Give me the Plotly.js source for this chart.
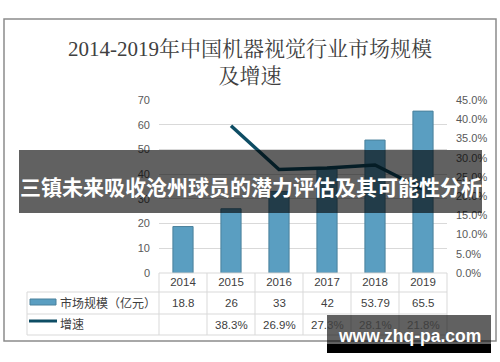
<!DOCTYPE html>
<html>
<head>
<meta charset="utf-8">
<script src="https://cdn.plot.ly/plotly-3.0.1.min.js"></script>
<style>
html,body{margin:0;padding:0;background:#fff;}
#chart{width:500px;height:362px;}
</style>
</head>
<body>
<div id="chart"></div>
<script>
// ---- data ----
const years = ['2014', '2015', '2016', '2017', '2018', '2019'];
const marketSize = [18.8, 26, 33, 42, 53.79, 65.5];
const growthRate = [null, 0.383, 0.269, 0.273, 0.281, 0.218];
const sizeLabels = ['18.8', '26', '33', '42', '53.79', '65.5'];
const growthLabels = ['', '38.3%', '26.9%', '27.3%', '28.1%', '21.8%'];
const seriesNames = ['市场规模（亿元）', '增速'];
const chartTitle = '2014-2019年中国机器视觉行业市场规模<br>及增速';
const bannerText = '三镇未来吸收沧州球员的潜力评估及其可能性分析';
const watermarkText = 'www.zhq-pa.com';

// ---- geometry helpers (pixel -> paper) ----
const W = 500, H = 362;
const L = 159, R = 447, T = 100, B = 273;
const px = x => (x - L) / (R - L);
const py = y => (B - y) / (B - T);

const barColor = '#5a9ec1';
const barEdge = '#4a819c';
const lineColor = '#0e4d64';
const gridCol = '#d9d9d9';
const textCol = '#404040';
const font = '"Liberation Sans", Arial, "Noto Sans CJK SC", sans-serif';
const cjkFont = '"Noto Sans CJK SC", "Liberation Sans", sans-serif';

const traces = [
  {
    type: 'bar', x: years, y: marketSize, name: seriesNames[0],
    width: 0.42,
    marker: {color: barColor, line: {color: barEdge, width: 1}},
    hoverinfo: 'x+y'
  },
  {
    type: 'scatter', mode: 'lines', x: years, y: growthRate, name: seriesNames[1],
    yaxis: 'y2', line: {color: lineColor, width: 3.5}, connectgaps: false
  }
];

const shapes = [];
const annotations = [];
function hline(x0, x1, y, color, w) {
  shapes.push({type: 'line', xref: 'paper', yref: 'paper', x0: px(x0), x1: px(x1), y0: py(y), y1: py(y), line: {color: color || gridCol, width: w || 1}});
}
function vline(x, y0, y1, color, w) {
  shapes.push({type: 'line', xref: 'paper', yref: 'paper', x0: px(x), x1: px(x), y0: py(y0), y1: py(y1), line: {color: color || gridCol, width: w || 1}});
}
function rect(x0, y0, x1, y1, fill, lineC, lw) {
  shapes.push({type: 'rect', xref: 'paper', yref: 'paper', x0: px(x0), x1: px(x1), y0: py(y0), y1: py(y1), fillcolor: fill, line: {color: lineC || 'rgba(0,0,0,0)', width: lw || 0}});
}

// outer frame
rect(4, 19, 496, 341, 'rgba(0,0,0,0)', '#8c8c8c', 1.5);

// table grid
const rowTop = 292, rowMid = 314, rowBot = 335;
hline(L, R, B);
hline(27, R, rowTop);
hline(27, R, rowMid);
hline(27, R, rowBot);
vline(27, rowTop, rowBot);
for (let i = 0; i <= years.length; i++) {
  const xx = L + i * (R - L) / years.length;
  vline(xx, B, rowBot);
}

// legend keys in table
rect(30, 299, 56, 305, barColor, barEdge, 1);
hline(29, 57, 321, lineColor, 3);

// row labels
annotations.push({xref: 'paper', yref: 'paper', x: px(58), y: py(302.5), xanchor: 'left', yanchor: 'middle', text: seriesNames[0], showarrow: false, font: {family: cjkFont, size: 12, color: textCol}});
annotations.push({xref: 'paper', yref: 'paper', x: px(58), y: py(323), xanchor: 'left', yanchor: 'middle', text: seriesNames[1], showarrow: false, font: {family: cjkFont, size: 12, color: textCol}});

// row values (category axis: annotation x is the category index)
years.forEach((yr, i) => {
  annotations.push({xref: 'x', yref: 'paper', x: i, y: py(303), yanchor: 'middle', text: sizeLabels[i], showarrow: false, font: {family: font, size: 11.5, color: textCol}});
  if (growthLabels[i]) {
    annotations.push({xref: 'x', yref: 'paper', x: i, y: py(324.5), yanchor: 'middle', text: growthLabels[i], showarrow: false, font: {family: font, size: 11.5, color: textCol}});
  }
});

// overlay banner
rect(19, 150, 482, 213, 'rgba(0,0,0,0.62)');
annotations.push({xref: 'paper', yref: 'paper', x: px(250.5), y: py(186), xanchor: 'center', yanchor: 'middle', text: '<b>' + bannerText + '</b>', showarrow: false, font: {family: cjkFont, size: 21, color: '#ffffff'}});

// watermark
rect(327, 315, 491, 344, 'rgba(0,0,0,0.62)');
rect(327, 344, 491, 353, '#000000');
annotations.push({xref: 'paper', yref: 'paper', x: px(409), y: py(336), xanchor: 'center', yanchor: 'middle', text: '<b>' + watermarkText + '</b>', showarrow: false, font: {family: font, size: 17.5, color: '#ffffff'}});

const layout = {
  width: W, height: H,
  margin: {l: L, r: W - R, t: T, b: H - B, pad: 0},
  paper_bgcolor: '#ffffff', plot_bgcolor: '#ffffff',
  showlegend: false,
  title: {
    text: chartTitle,
    x: 0.5, xref: 'container', xanchor: 'center',
    y: 1 - 56 / H, yref: 'container', yanchor: 'middle',
    font: {family: '"Liberation Serif", "Noto Serif CJK SC", "Noto Sans CJK SC", serif', size: 21, color: textCol}
  },
  xaxis: {
    type: 'category', range: [-0.5, years.length - 0.5], autorange: false,
    showline: false, showgrid: false, zeroline: false,
    ticks: '', tickfont: {family: font, size: 11.5, color: textCol},
    fixedrange: true
  },
  yaxis: {
    range: [0, 70], dtick: 10, showgrid: true, gridcolor: gridCol, zeroline: false,
    showline: false, ticks: '', ticklabelstandoff: 8,
    tickfont: {family: font, size: 11, color: '#595959'}
  },
  yaxis2: {
    range: [0, 0.45], dtick: 0.05, tickformat: '.1%', overlaying: 'y', side: 'right',
    showgrid: false, zeroline: false, showline: false, ticks: '', ticklabelstandoff: 8,
    tickfont: {family: font, size: 11, color: '#595959'}
  },
  shapes: shapes,
  annotations: annotations
};

Plotly.newPlot('chart', traces, layout, {displayModeBar: false, staticPlot: true});
</script>
</body>
</html>
